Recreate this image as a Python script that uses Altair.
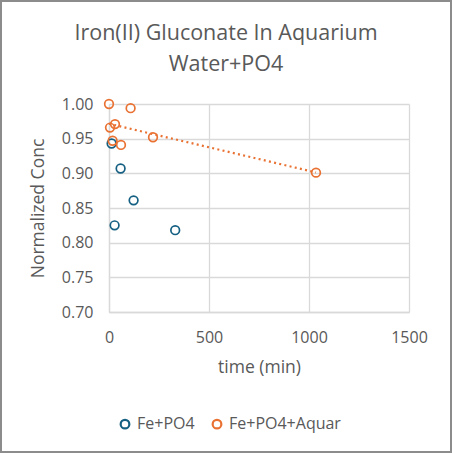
import altair as alt
import pandas as pd

# Data
fe_po4_time = [13, 58, 123, 28, 331]
fe_po4_conc = [0.943, 0.907, 0.861, 0.825, 0.818]

fe_po4_aquar_time = [0, 108, 5, 30, 18, 60, 220, 1035]
fe_po4_aquar_conc = [1.000, 0.994, 0.966, 0.971, 0.947, 0.941, 0.952, 0.901]

series_names = ["Fe+PO4", "Fe+PO4+Aquar"]
series_colors = ["#156082", "#E97132"]
x_ticks = [0, 500, 1000, 1500]
y_ticks = [0.70, 0.75, 0.80, 0.85, 0.90, 0.95, 1.00]
title_lines = ["Iron(II) Gluconate In Aquarium", "Water+PO4"]

rows = []
for t, c in zip(fe_po4_time, fe_po4_conc):
    rows.append({"time": t, "conc": c, "series": series_names[0]})
for t, c in zip(fe_po4_aquar_time, fe_po4_aquar_conc):
    rows.append({"time": t, "conc": c, "series": series_names[1]})
df = pd.DataFrame(rows)

FONT = "Open Sans"
GRAY = "#595959"

x_enc = alt.X(
    "time:Q",
    scale=alt.Scale(domain=[0, 1500], nice=False),
    axis=alt.Axis(values=x_ticks, format="d", title="time (min)", labelPadding=17,
                  titlePadding=13, labelOverlap=False, labelFlush=False),
)
y_enc = alt.Y(
    "conc:Q",
    scale=alt.Scale(domain=[0.7, 1.0], nice=False, zero=False),
    axis=alt.Axis(values=y_ticks, format=".2f", title="Normalized Conc",
                  labelPadding=16, titlePadding=14, labelOverlap=False,
                  labelFlush=False),
)

points = alt.Chart(df).mark_point(
    filled=False, size=75, strokeWidth=1.7, opacity=1
).encode(
    x=x_enc,
    y=y_enc,
    color=alt.Color(
        "series:N",
        scale=alt.Scale(domain=series_names, range=series_colors),
        legend=alt.Legend(
            title=None, orient="none", direction="horizontal",
            legendX=8, legendY=312, symbolType="circle", symbolSize=75,
            symbolStrokeWidth=2.2, labelFontSize=16, labelColor=GRAY,
            labelFont=FONT, columnPadding=13, symbolOffset=0,
        ),
    ),
    order=alt.Order("series:N"),
)

trend = alt.Chart(df[df["series"] == series_names[1]]).transform_regression(
    "time", "conc"
).mark_line(
    color=series_colors[1], strokeWidth=2.2, strokeDash=[2, 3.3], strokeCap="butt"
).encode(x=x_enc, y=y_enc)

border = alt.Chart(pd.DataFrame({"a": [0]})).mark_rect(
    fill=None, stroke="#8c8c8c", strokeWidth=2
).encode(
    x=alt.value(-108), x2=alt.value(342), y=alt.value(-103), y2=alt.value(348)
)

title = alt.Chart(pd.DataFrame({"a": [0]})).mark_text(
    font=FONT, fontSize=21.5, color=GRAY, align="center", baseline="alphabetic",
    lineHeight=31,
).encode(
    x=alt.value(117), y=alt.value(-64), text=alt.value(title_lines)
)

chart = alt.layer(border, title, trend, points).properties(
    width=300,
    height=208,
    padding={"left": 109, "top": 104, "right": 43, "bottom": 141},
    autosize=alt.AutoSizeParams(type="none"),
    background="white",
).configure_view(stroke=None).configure_axis(
    domainColor="#d9d9d9", gridColor="#d9d9d9", gridWidth=1.3, domainWidth=1.3,
    ticks=False, labelFont=FONT, titleFont=FONT, labelFontSize=16,
    titleFontSize=17.5, labelColor=GRAY, titleColor=GRAY, titleFontWeight="normal",
)

chart.save("out.html", embed_options={"renderer": "svg", "actions": False})
